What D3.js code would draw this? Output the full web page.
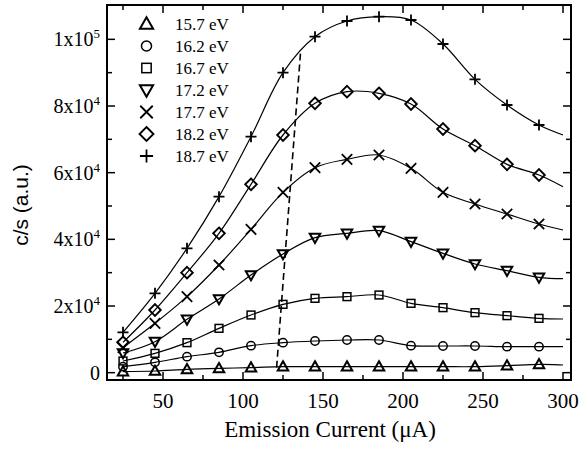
<!DOCTYPE html>
<html>
<head>
<meta charset="utf-8">
<script src="https://cdn.jsdelivr.net/npm/d3@7"></script>
<style>
  html, body { margin: 0; padding: 0; background: #fff; }
  svg { display: block; }
</style>
</head>
<body>
<svg id="chart" width="583" height="449"></svg>
<script>
// ---- data ----
const currents = [25, 45, 65, 85, 105, 125, 145, 165, 185, 205, 225, 245, 265, 285];
const lineEndCurrent = 300;
const seriesNames = ["15.7 eV", "16.2 eV", "16.7 eV", "17.2 eV", "17.7 eV", "18.2 eV", "18.7 eV"];
const s157 = [300, 500, 1000, 1300, 1500, 1800, 1800, 1800, 1800, 1800, 1800, 1800, 2100, 2500];
const s162 = [1800, 3100, 4800, 6100, 8100, 9000, 9500, 9800, 9800, 8100, 8000, 8000, 7800, 7800];
const s167 = [3500, 5800, 9000, 13300, 17300, 20500, 22300, 22800, 23300, 20800, 19500, 18000, 17100, 16300];
const s172 = [5900, 9300, 16000, 22100, 29300, 35600, 40500, 41800, 42600, 39300, 35800, 32600, 30600, 28600];
const s177 = [7500, 14800, 22800, 32300, 43000, 54100, 61500, 64000, 65300, 61300, 54100, 50600, 47600, 44600];
const s182 = [9100, 18800, 30000, 41800, 56500, 71300, 80800, 84300, 83800, 80600, 73100, 68100, 62500, 59300];
const s187 = [12100, 23800, 37300, 52800, 70800, 90000, 100800, 105500, 106800, 105800, 98600, 88000, 80300, 74300];
const lineEndValues = [2300, 7800, 16100, 28200, 42800, 55800, 71300];
const markerTypes = ["triUp", "circle", "square", "triDown", "cross", "diamond", "plus"];
const dashedCurrents = [121, 136];
const dashedValues = [1500, 96300];
const xTicks = [50, 100, 150, 200, 250, 300];
const xMinorTicks = [25, 75, 125, 175, 225, 275];
const yTickValues = [0, 20000, 40000, 60000, 80000, 100000];
const yTickMantissa = ["0", "2x10", "4x10", "6x10", "8x10", "1x10"];
const yTickExponent = ["", "4", "4", "4", "4", "5"];
const yMinorTicks = [10000, 30000, 50000, 70000, 90000];
const xTitle = "Emission Current (\u03bcA)";
const yTitle = "c/s (a.u.)";

const allSeries = [s157, s162, s167, s172, s177, s182, s187];

// ---- layout ----
const svg = d3.select("#chart");
const L = 107, R = 571, T = 5, B = 380;
const x = d3.scaleLinear().domain([15, 305]).range([L, R]);
const y = d3.scaleLinear().domain([-2200, 110300]).range([B, T]);
const serif = "'Liberation Serif', 'Times New Roman', serif";
const sans = "'Liberation Sans', Arial, sans-serif";

// markers
function drawMarker(g, type, cx, cy, s) {
  const sw = 1.5;
  if (type === "triUp") {
    const h = s * 0.9;
    g.append("path").attr("d", `M${cx},${cy - h * 0.62}L${cx + s * 0.55},${cy + h * 0.45}L${cx - s * 0.55},${cy + h * 0.45}Z`)
      .attr("fill", "none").attr("stroke", "#000").attr("stroke-width", sw + 0.5);
  } else if (type === "triDown") {
    const h = s * 0.9;
    g.append("path").attr("d", `M${cx},${cy + h * 0.62}L${cx + s * 0.55},${cy - h * 0.45}L${cx - s * 0.55},${cy - h * 0.45}Z`)
      .attr("fill", "none").attr("stroke", "#000").attr("stroke-width", sw + 0.5);
  } else if (type === "circle") {
    g.append("circle").attr("cx", cx).attr("cy", cy).attr("r", s * 0.42)
      .attr("fill", "none").attr("stroke", "#000").attr("stroke-width", sw);
  } else if (type === "square") {
    const a = s * 0.78;
    g.append("rect").attr("x", cx - a / 2).attr("y", cy - a / 2).attr("width", a).attr("height", a)
      .attr("fill", "none").attr("stroke", "#000").attr("stroke-width", sw);
  } else if (type === "diamond") {
    const a = s * 0.58;
    g.append("path").attr("d", `M${cx},${cy - a}L${cx + a},${cy}L${cx},${cy + a}L${cx - a},${cy}Z`)
      .attr("fill", "none").attr("stroke", "#000").attr("stroke-width", sw + 0.4);
  } else if (type === "cross") {
    const a = s * 0.52;
    g.append("path").attr("d", `M${cx - a},${cy - a}L${cx + a},${cy + a}M${cx - a},${cy + a}L${cx + a},${cy - a}`)
      .attr("stroke", "#000").attr("stroke-width", sw + 0.3);
  } else if (type === "plus") {
    const a = s * 0.55;
    g.append("path").attr("d", `M${cx - a},${cy}L${cx + a},${cy}M${cx},${cy - a}L${cx},${cy + a}`)
      .attr("stroke", "#000").attr("stroke-width", sw + 0.3);
  }
}

// curves
const line = d3.line().x(d => x(d[0])).y(d => y(d[1])).curve(d3.curveCatmullRom.alpha(0.5));
const curvesG = svg.append("g");
allSeries.forEach((vals, i) => {
  const pts = currents.map((c, j) => [c, vals[j]]);
  pts.push([lineEndCurrent, lineEndValues[i]]);
  curvesG.append("path").attr("d", line(pts)).attr("fill", "none")
    .attr("stroke", "#000").attr("stroke-width", 1.2);
});

// dashed line
svg.append("path")
  .attr("d", d3.line().x(d => x(d[0])).y(d => y(d[1]))(dashedCurrents.map((c, i) => [c, dashedValues[i]])))
  .attr("fill", "none").attr("stroke", "#000").attr("stroke-width", 1.6)
  .attr("stroke-dasharray", "7,4");

// markers
const markG = svg.append("g");
allSeries.forEach((vals, i) => {
  const size = (markerTypes[i] === "triUp" || markerTypes[i] === "triDown") ? 9.5 : 10;
  currents.forEach((c, j) => drawMarker(markG, markerTypes[i], x(c), y(vals[j]), size));
});

// frame
svg.append("rect").attr("x", L).attr("y", T).attr("width", R - L).attr("height", B - T)
  .attr("fill", "none").attr("stroke", "#000").attr("stroke-width", 2);

// ticks (inward)
const tickG = svg.append("g").attr("stroke", "#000").attr("stroke-width", 1.5);
xTicks.forEach(v => {
  tickG.append("line").attr("x1", x(v)).attr("x2", x(v)).attr("y1", B).attr("y2", B - 8);
  tickG.append("line").attr("x1", x(v)).attr("x2", x(v)).attr("y1", T).attr("y2", T + 8);
});
xMinorTicks.forEach(v => {
  tickG.append("line").attr("x1", x(v)).attr("x2", x(v)).attr("y1", B).attr("y2", B - 5);
  tickG.append("line").attr("x1", x(v)).attr("x2", x(v)).attr("y1", T).attr("y2", T + 5);
});
yTickValues.forEach(v => {
  tickG.append("line").attr("x1", L).attr("x2", L + 8).attr("y1", y(v)).attr("y2", y(v));
  tickG.append("line").attr("x1", R).attr("x2", R - 8).attr("y1", y(v)).attr("y2", y(v));
});
yMinorTicks.forEach(v => {
  tickG.append("line").attr("x1", L).attr("x2", L + 5).attr("y1", y(v)).attr("y2", y(v));
  tickG.append("line").attr("x1", R).attr("x2", R - 5).attr("y1", y(v)).attr("y2", y(v));
});

// x tick labels
xTicks.forEach(v => {
  svg.append("text").attr("x", x(v)).attr("y", 408).attr("text-anchor", "middle")
    .attr("font-family", serif).attr("font-size", 21).attr("fill", "#000").text(v);
});

// y tick labels
yTickValues.forEach((v, i) => {
  const t = svg.append("text").attr("x", 100).attr("y", y(v) + 7).attr("text-anchor", "end")
    .attr("font-family", serif).attr("font-size", 20).attr("fill", "#000");
  t.append("tspan").text(yTickMantissa[i]);
  if (yTickExponent[i]) {
    t.append("tspan").attr("dy", -8).attr("font-size", 13).text(yTickExponent[i]);
  }
});

// axis titles
svg.append("text").attr("x", 330).attr("y", 437).attr("text-anchor", "middle")
  .attr("font-family", serif).attr("font-size", 23).attr("fill", "#000").text(xTitle);
svg.append("text").attr("transform", "translate(28,205) rotate(-90)").attr("text-anchor", "middle")
  .attr("font-family", sans).attr("font-size", 21).attr("fill", "#000").text(yTitle);

// legend
const legendG = svg.append("g");
seriesNames.forEach((name, i) => {
  const ly = 24 + i * 22;
  drawMarker(legendG, markerTypes[i], 146.5, ly, 12);
  legendG.append("text").attr("x", 175).attr("y", ly).attr("dy", "0.35em")
    .attr("font-family", serif).attr("font-size", 17).attr("fill", "#000").text(name);
});
</script>
</body>
</html>
